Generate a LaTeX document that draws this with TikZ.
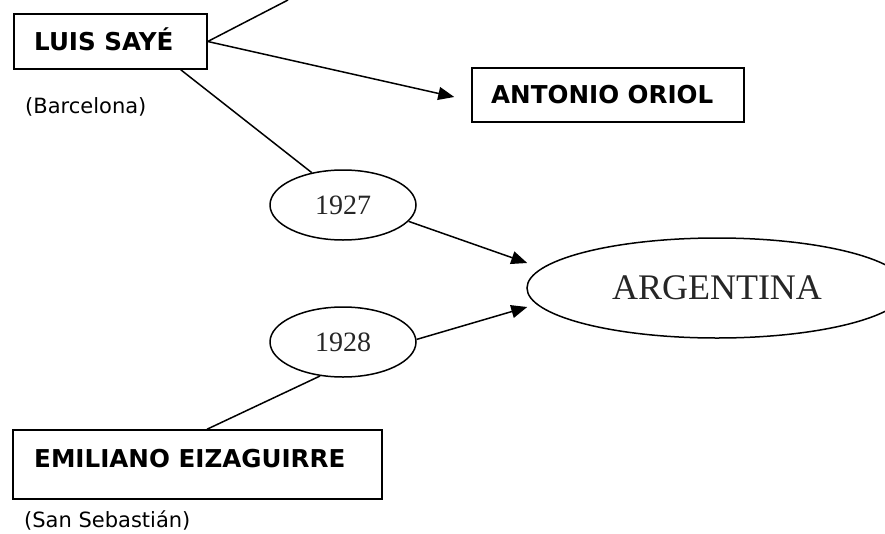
\documentclass[tikz,border=0pt]{standalone}
\usepackage{fontspec}
\setmainfont{DejaVu Sans}
\newfontfamily\titlefont{Liberation Serif}
\usetikzlibrary{arrows.meta,shapes.geometric}
\begin{document}
\begin{tikzpicture}[x=1pt,y=-1pt,
  box/.style={draw, line width=1.5pt, rectangle, inner sep=0pt},
  oval/.style={draw, line width=1.5pt, ellipse, inner sep=0pt, text=black!85},
  lbl/.style={anchor=base west, inner sep=0pt, font=\fontsize{24.6}{28}\selectfont\bfseries},
  city/.style={anchor=base west, inner sep=0pt, font=\fontsize{21}{25}\selectfont},
  yrfont/.style={font=\titlefont\fontsize{28}{32}\selectfont},
  conn/.style={line width=1.5pt},
  arr/.style={conn, -{Triangle[length=16pt,width=13pt]}}]
\useasboundingbox (0,0) rectangle (885,533);

% boxes
\node[box, minimum width=193pt, minimum height=55pt] (luis) at (110.5,41.5) {};
\node[box, minimum width=272pt, minimum height=54pt] (antonio) at (608,95) {};
\node[box, minimum width=369pt, minimum height=69pt] (emil) at (197.5,464.5) {};

% box texts
\node[lbl] (luist) at (34,50) {LUIS SAYÉ};
\node[lbl] (antt) at (491,103) {ANTONIO ORIOL};
\node[lbl] (emilt) at (34,467) {EMILIANO EIZAGUIRRE};
\node[city] (barc) at (25,113) {(Barcelona)};
\node[city] (sans) at (24,527) {(San Sebastián)};

% ellipses
\node[oval, yrfont, minimum width=146pt, minimum height=70pt] (y27) at (343,205) {1927};
\node[oval, yrfont, minimum width=146pt, minimum height=70pt] (y28) at (343,342) {1928};
\node[oval, font=\titlefont\fontsize{36}{40}\selectfont, minimum width=380pt, minimum height=100pt] (arg) at (717,288) {ARGENTINA};

% connectors
\coordinate (topend) at (288,0);
\draw[conn] (luis.east) -- (topend);
\draw[arr] (luis.east) -- ([xshift=-17pt,yshift=-2pt]antonio.west);
\draw[conn] ([xshift=-27pt]luis.south east) -- (y27.134);
\draw[arr] (y27.-14) -- ([xshift=1pt,yshift=25pt]arg.west);
\draw[arr] (y28.2) -- ([xshift=1pt,yshift=-19pt]arg.west);
\draw[conn] (y28.236) -- ([xshift=9.5pt]emil.north);
\end{tikzpicture}
\end{document}
